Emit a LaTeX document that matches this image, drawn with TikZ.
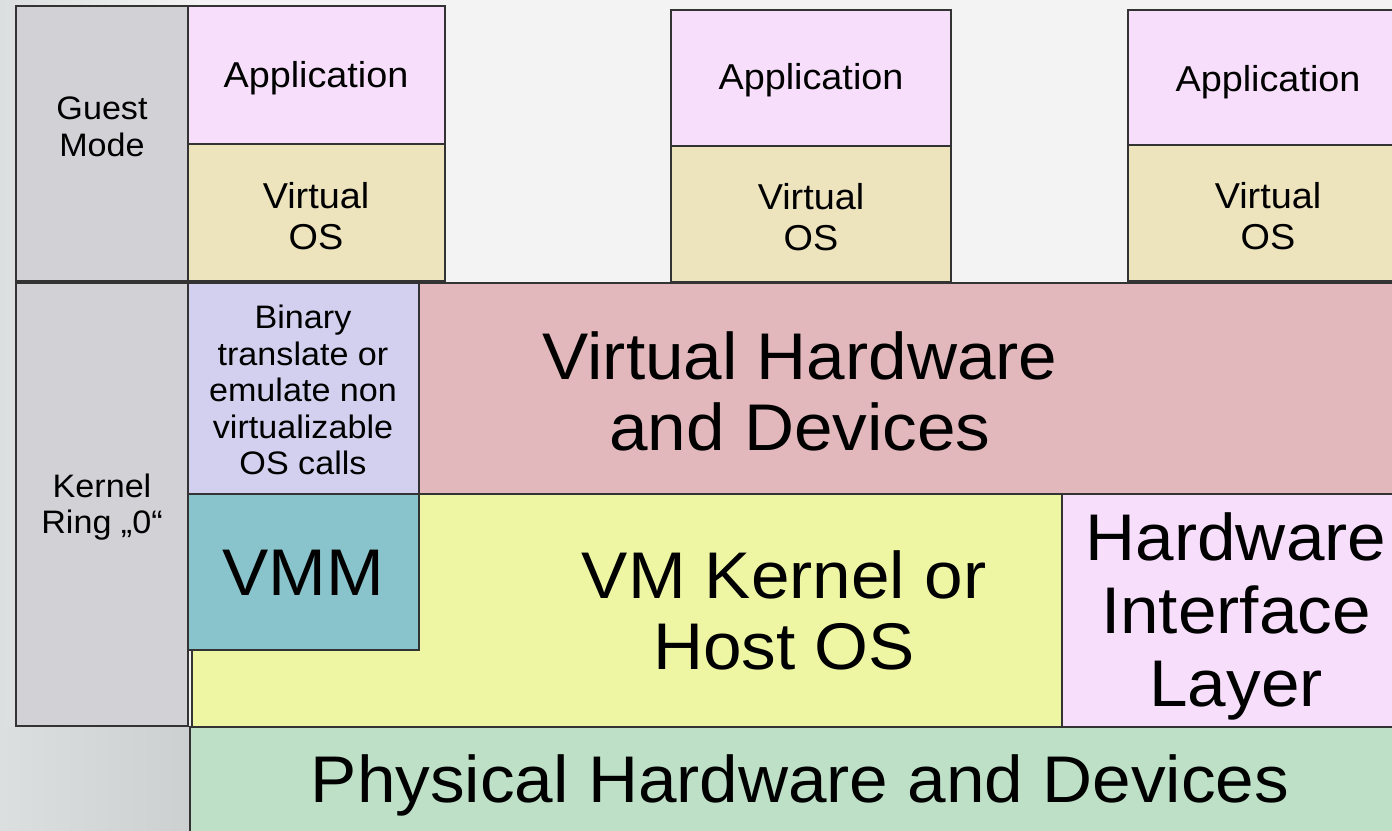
\documentclass[tikz,border=0pt]{standalone}
\usepackage{fontspec}
\setmainfont[FakeStretch=1.05]{Liberation Sans}

\definecolor{backcol}{HTML}{F3F3F3}
\definecolor{backdark}{HTML}{DCDFDF}
\definecolor{cornercol}{HTML}{CDD0D0}
\definecolor{modecol}{HTML}{D2D1D6}
\definecolor{appcol}{HTML}{F7DFFB}
\definecolor{voscol}{HTML}{EDE3BD}
\definecolor{bincol}{HTML}{D2D0EE}
\definecolor{vhwcol}{HTML}{E2B8BC}
\definecolor{vmmcol}{HTML}{89C4CC}
\definecolor{kerncol}{HTML}{EEF6A4}
\definecolor{physcol}{HTML}{BDE0C7}

\begin{document}
\begin{tikzpicture}[x=1pt, y=-1pt,
    layer/.style={draw=black!80, line width=1.6pt},
    label/.style={align=center, inner sep=0pt, text=black}]
      \def\smalltext{\fontsize{32.5}{36.5}\selectfont}
      \def\apptext{\fontsize{36}{41}\selectfont}
      \def\bigtext{\fontsize{66}{71}\selectfont}

      \fill[backcol] (0,0) rectangle (1392,830);
      \shade[left color=backdark, right color=backcol] (0,0) rectangle (200,830);
      \shade[left color=backdark, right color=cornercol] (0,727) rectangle (190,830);
      \useasboundingbox (0,0) rectangle (1392,830);
      \clip (0,0) rectangle (1392,830);

      % left column
      \draw[layer, fill=modecol] (16,6) rectangle (188,281);
      \draw[layer, fill=modecol] (16,283) rectangle (188,726);
      \node[label, font=\smalltext] (guest) at (102,127) {Guest\\Mode};
      \node[label, font=\smalltext] (kernel) at (102,507) {Kernel\\Ring „0“};

      % guests
      \draw[layer, fill=appcol] (188,6) rectangle (445,144);
      \draw[layer, fill=voscol] (188,144) rectangle (445,281);
      \draw[layer, fill=appcol] (671,10) rectangle (951,146);
      \draw[layer, fill=voscol] (671,146) rectangle (951,282);
      \draw[layer, fill=appcol] (1128,10) rectangle (1420,145);
      \draw[layer, fill=voscol] (1128,145) rectangle (1420,281);
      \node[label, font=\apptext] (app1) at (316,78) {Application};
      \node[label, font=\apptext] (vos1) at (316,216) {Virtual\\OS};
      \node[label, font=\apptext] (app2) at (811,80) {Application};
      \node[label, font=\apptext] (vos2) at (811,217) {Virtual\\OS};
      \node[label, font=\apptext] (app3) at (1268,82) {Application};
      \node[label, font=\apptext] (vos3) at (1268,216) {Virtual\\OS};

      % host layers
      \draw[layer, fill=vhwcol] (419,283) rectangle (1420,494);
      \draw[layer, fill=bincol] (188,283) rectangle (419,494);
      \draw[layer, fill=kerncol] (192,494) rectangle (1062,727);
      \draw[layer, fill=vmmcol] (188,494) rectangle (419,650);
      \draw[layer, fill=appcol] (1062,494) rectangle (1420,727);
      \draw[layer, fill=physcol] (190,727) rectangle (1420,850);

      \node[label, font=\smalltext] (binary) at (303,390)
        {Binary\\translate or\\emulate non\\virtualizable\\OS calls};
      \node[label, font=\bigtext] (vhw) at (800,391) {Virtual Hardware\\and Devices};
      \node[label, font=\bigtext] (vmm) at (303,573) {VMM};
      \node[label, font=\bigtext] (vmk) at (784,610) {VM Kernel or\\Host OS};
      \node[label, font=\fontsize{66}{73}\selectfont] (hil) at (1236,616) {Hardware\\Interface\\Layer};
      \node[label, font=\bigtext] (phys) at (800,785) {Physical Hardware and Devices};

    \end{tikzpicture}
\end{document}
